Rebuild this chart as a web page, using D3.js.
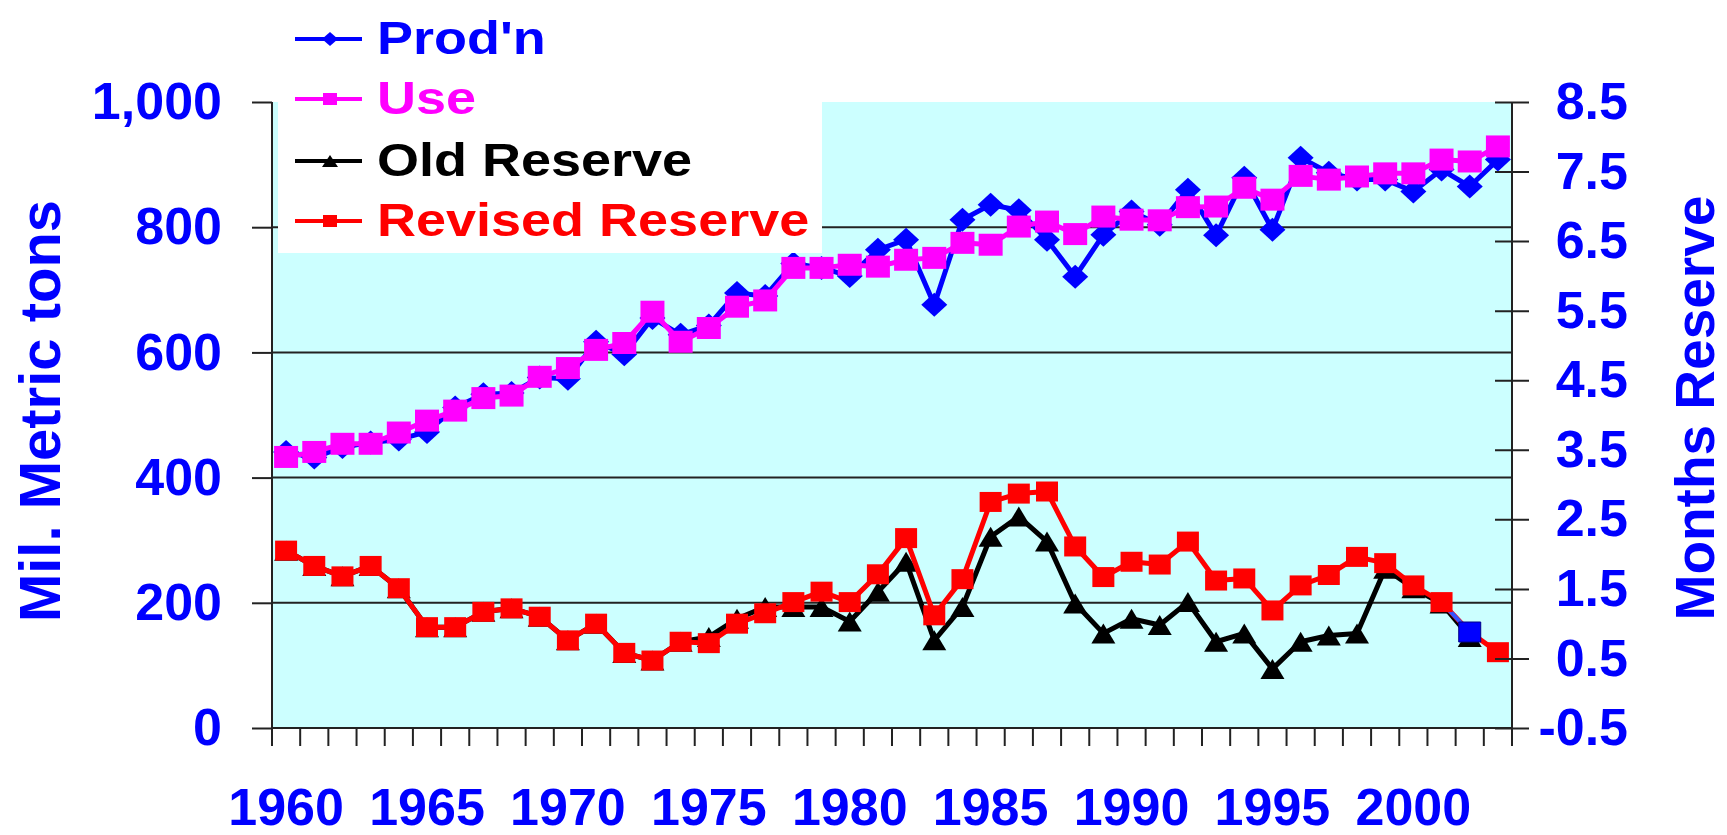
<!DOCTYPE html>
<html>
<head>
<meta charset="utf-8">
<script src="https://cdn.jsdelivr.net/npm/d3@7"></script>
<style>
  html, body { margin: 0; padding: 0; background: #fff; }
  svg { display: block; font-family: "Liberation Sans", Arial, sans-serif; font-weight: bold; }
</style>
</head>
<body>
<svg id="chart"></svg>
<script>
// Data
const years = [1960, 1961, 1962, 1963, 1964, 1965, 1966, 1967, 1968, 1969,
               1970, 1971, 1972, 1973, 1974, 1975, 1976, 1977, 1978, 1979,
               1980, 1981, 1982, 1983, 1984, 1985, 1986, 1987, 1988, 1989,
               1990, 1991, 1992, 1993, 1994, 1995, 1996, 1997, 1998, 1999,
               2000, 2001, 2002, 2003];

// Mil. metric tons (left axis)
const prodn = [441, 432, 449, 456, 461, 473, 512, 533, 535, 560,
               558, 617, 597, 655, 628, 643, 695, 690, 742, 735,
               722, 764, 780, 676, 812, 836, 827, 780, 721, 788,
               825, 804, 860, 787, 879, 796, 911, 887, 876, 876,
               857, 892, 865, 908];
const use = [433, 441, 454, 454, 472, 491, 507, 527, 531, 561,
             575, 604, 615, 665, 617, 639, 673, 683, 735, 735,
             740, 737, 748, 751, 775, 772, 801, 809, 789, 817,
             812, 811, 832, 833, 863, 844, 882, 876, 881, 886,
             886, 908, 905, 929];

// Months reserve (right axis)
const oldReserve = [2.05, 1.83, 1.68, 1.83, 1.51, 0.95, 0.95, 1.17, 1.22, 1.10,
                    0.76, 1.00, 0.58, 0.47, 0.74, 0.81, 1.07, 1.24, 1.24, 1.24,
                    1.03, 1.46, 1.89, 0.76, 1.24, 2.25, 2.54, 2.18, 1.29, 0.86,
                    1.07, 0.98, 1.31, 0.74, 0.86, 0.35, 0.74, 0.83, 0.86, 1.79,
                    1.51, 1.29, 0.81, null];
const revisedReserve = [2.05, 1.83, 1.68, 1.83, 1.51, 0.95, 0.95, 1.17, 1.22, 1.10,
                        0.76, 1.00, 0.58, 0.47, 0.74, 0.72, 1.00, 1.15, 1.31, 1.46,
                        1.31, 1.71, 2.23, 1.12, 1.64, 2.75, 2.87, 2.90, 2.11, 1.67,
                        1.89, 1.85, 2.18, 1.62, 1.65, 1.19, 1.55, 1.70, 1.96, 1.87,
                        1.55, 1.31, 0.88, 0.59];
const highlightYears = [2002];   // point drawn in blue on the revised line

const leftTicks = [0, 200, 400, 600, 800, 1000];
const rightTicks = [-0.5, 0.5, 1.5, 2.5, 3.5, 4.5, 5.5, 6.5, 7.5, 8.5];
const yearLabels = [1960, 1965, 1970, 1975, 1980, 1985, 1990, 1995, 2000];
const gridValues = [200, 400, 600, 800];

const legendNames = ["Prod'n", "Use", "Old Reserve", "Revised Reserve"];

// Layout
const width = 1727, height = 835;
const plotL = 272, plotR = 1512, plotT = 102, plotB = 728;

const svg = d3.select("#chart")
    .attr("width", width)
    .attr("height", height)
    .attr("viewBox", [0, 0, width, height]);

const x = d3.scaleBand().domain(years).range([plotL, plotR]).padding(0);
const yL = d3.scaleLinear().domain([0, 1000]).range([plotB, plotT]);
const yR = d3.scaleLinear().domain([-0.5, 8.5]).range([plotB, plotT]);
const cx = yr => x(yr) + x.bandwidth() / 2;

// marker shapes
const diamond = (w, h) => `M0,${-h}L${w},0L0,${h}L${-w},0Z`;
const square = (w, h) => `M${-w},${-h}H${w}V${h}H${-w}Z`;
const triangle = (w, h) => `M0,${-h}L${w},${h}L${-w},${h}Z`;

const blue = "#0000ff", magenta = "#ff00ff", red = "#ff0000", black = "#000000";
const axisColor = "#222";

// plot background
svg.append("rect")
    .attr("x", plotL).attr("y", plotT)
    .attr("width", plotR - plotL).attr("height", plotB - plotT)
    .attr("fill", "#ccffff");

// gridlines
svg.append("g")
    .selectAll("line")
    .data(gridValues)
    .join("line")
    .attr("x1", plotL).attr("x2", plotR)
    .attr("y1", d => yL(d)).attr("y2", d => yL(d))
    .attr("stroke", axisColor).attr("stroke-width", 2);

// series
const series = [
  { name: "Prod'n", values: prodn, y: yL, color: blue, shape: diamond(13, 12) },
  { name: "Use", values: use, y: yL, color: magenta, shape: square(12, 11) },
  { name: "Old Reserve", values: oldReserve, y: yR, color: black, shape: triangle(12, 10) },
  { name: "Revised Reserve", values: revisedReserve, y: yR, color: red, shape: square(11, 10) }
];

series.forEach(s => {
  const pts = years.map((yr, i) => ({ year: yr, v: s.values[i] })).filter(d => d.v != null);
  const line = d3.line().x(d => cx(d.year)).y(d => s.y(d.v));
  svg.append("path")
      .datum(pts)
      .attr("d", line)
      .attr("fill", "none")
      .attr("stroke", s.color)
      .attr("stroke-width", 5)
      .attr("stroke-linejoin", "round");

  if (s.name === "Revised Reserve") {
    // blue segment leading into the highlighted point
    highlightYears.forEach(hy => {
      const i = pts.findIndex(d => d.year === hy);
      if (i > 0) {
        svg.append("path")
            .datum([pts[i - 1], pts[i]])
            .attr("d", line)
            .attr("fill", "none")
            .attr("stroke", "#3355ff")
            .attr("stroke-width", 4);
      }
    });
  }

  svg.append("g")
      .selectAll("path")
      .data(pts)
      .join("path")
      .attr("transform", d => `translate(${cx(d.year)},${s.y(d.v)})`)
      .attr("d", s.shape)
      .attr("fill", d => s.name === "Revised Reserve" && highlightYears.includes(d.year) ? blue : s.color)
      .attr("stroke", d => s.name === "Revised Reserve" && highlightYears.includes(d.year) ? "#000088" : "none")
      .attr("stroke-width", 1);
});

// axis lines
svg.append("line").attr("x1", plotL).attr("x2", plotL).attr("y1", plotT).attr("y2", plotB)
    .attr("stroke", axisColor).attr("stroke-width", 2);
svg.append("line").attr("x1", plotR).attr("x2", plotR).attr("y1", plotT).attr("y2", plotB)
    .attr("stroke", axisColor).attr("stroke-width", 2);
svg.append("line").attr("x1", plotL).attr("x2", plotR).attr("y1", plotB).attr("y2", plotB)
    .attr("stroke", axisColor).attr("stroke-width", 2);

// left axis
svg.append("g")
    .attr("transform", `translate(${plotL},0)`)
    .call(d3.axisLeft(yL).tickValues(leftTicks).tickFormat(d3.format(",")).tickSize(20).tickPadding(30))
    .call(g => g.select(".domain").remove())
    .call(g => g.selectAll("line").attr("stroke", axisColor).attr("stroke-width", 2))
    .call(g => g.selectAll("text")
        .attr("fill", blue)
        .attr("font-size", 52)
        .attr("font-family", "'Liberation Sans', Arial, sans-serif")
        .attr("font-weight", "bold"));

// right axis (ticks cross the axis line)
svg.append("g")
    .attr("transform", `translate(${plotR},0)`)
    .call(d3.axisRight(yR).tickValues(rightTicks).tickFormat(d => d.toFixed(1)).tickSize(17).tickPadding(20))
    .call(g => g.select(".domain").remove())
    .call(g => g.selectAll(".tick line").attr("x1", -17).attr("stroke", axisColor).attr("stroke-width", 2))
    .call(g => g.selectAll("text")
        .attr("x", 116)
        .attr("text-anchor", "end")
        .attr("fill", blue)
        .attr("font-size", 52)
        .attr("font-family", "'Liberation Sans', Arial, sans-serif")
        .attr("font-weight", "bold"));

// category ticks between years
svg.append("g")
    .selectAll("line")
    .data(years.concat([null]))
    .join("line")
    .attr("x1", d => d == null ? plotR : x(d))
    .attr("x2", d => d == null ? plotR : x(d))
    .attr("y1", plotB).attr("y2", plotB + 18)
    .attr("stroke", axisColor).attr("stroke-width", 2);

// year labels
svg.append("g")
    .selectAll("text")
    .data(yearLabels)
    .join("text")
    .attr("x", d => cx(d))
    .attr("y", 825)
    .attr("text-anchor", "middle")
    .attr("fill", blue)
    .attr("font-size", 52)
    .text(d => d);

// axis titles
svg.append("text")
    .attr("transform", "translate(60,411) rotate(-90)")
    .attr("text-anchor", "middle")
    .attr("fill", blue)
    .attr("font-size", 58)
    .text("Mil. Metric tons");

svg.append("text")
    .attr("transform", "translate(1714,408) rotate(-90)")
    .attr("text-anchor", "middle")
    .attr("fill", blue)
    .attr("font-size", 55)
    .text("Months Reserve");

// legend
svg.append("rect")
    .attr("x", 278).attr("y", plotT - 1)
    .attr("width", 544).attr("height", 253 - plotT + 1)
    .attr("fill", "#fff");

const legendBase = [54, 114, 176, 236];
const legendShapes = [diamond(8, 7), square(7, 6), triangle(8, 6), square(7, 6)];
const legend = svg.append("g")
    .selectAll("g")
    .data(series)
    .join("g")
    .attr("transform", (d, i) => `translate(0,${legendBase[i]})`);

legend.append("line")
    .attr("x1", 295).attr("x2", 362)
    .attr("y1", -15).attr("y2", -15)
    .attr("stroke", d => d.color)
    .attr("stroke-width", 4);

legend.append("path")
    .attr("transform", "translate(330,-15)")
    .attr("d", (d, i) => legendShapes[i])
    .attr("fill", d => d.color);

legend.append("text")
    .attr("transform", "translate(377,0) scale(1,0.84)")
    .attr("fill", d => d.color)
    .attr("font-size", 54)
    .text((d, i) => legendNames[i]);
</script>
</body>
</html>
